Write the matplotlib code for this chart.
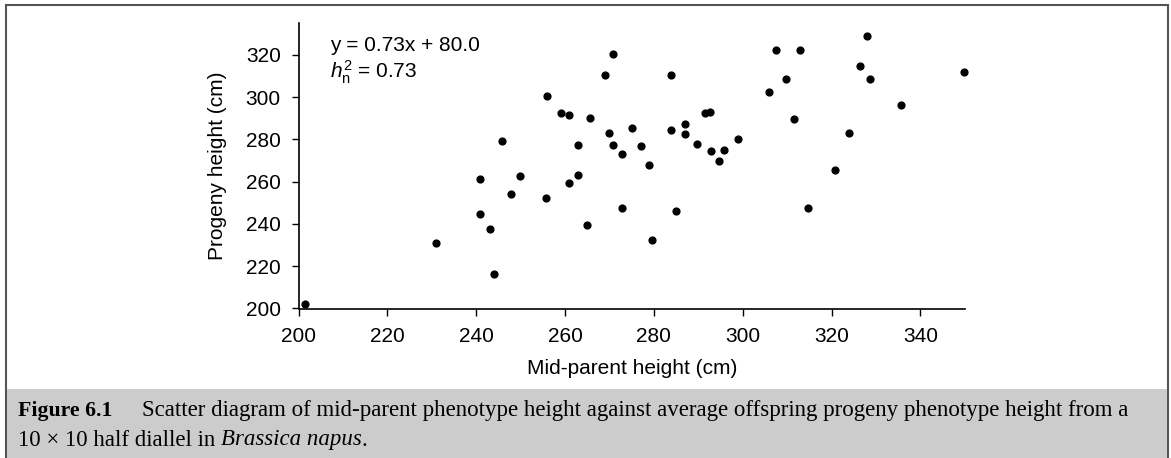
import matplotlib
matplotlib.use("Agg")
import matplotlib.pyplot as plt
from matplotlib.patches import Rectangle

# valores: altura media de padres (x) y de progenie (y)
mid_parent = [201.4, 231.0, 240.9, 240.9, 243.1, 244.0, 245.9, 247.8, 249.8, 255.8,
              255.9, 259.1, 260.9, 260.9, 262.9, 262.9, 265.0, 265.6, 269.0, 269.9,
              270.9, 270.9, 272.8, 272.8, 275.1, 277.2, 278.9, 279.6, 283.8, 283.8,
              284.9, 286.9, 287.0, 289.6, 291.6, 292.6, 292.8, 294.6, 295.9, 298.9,
              306.0, 307.6, 309.7, 311.5, 312.8, 314.8, 320.9, 324.0, 326.5, 327.9,
              328.7, 335.6, 349.8]
progeny = [202.2, 231.2, 261.3, 244.8, 237.7, 216.1, 279.4, 254.4, 262.6, 252.3,
           300.4, 292.7, 291.4, 259.3, 277.6, 263.4, 239.3, 290.3, 310.3, 283.2,
           320.3, 277.6, 273.1, 247.5, 285.3, 277.1, 268.1, 232.5, 310.3, 284.6,
           246.3, 287.5, 282.8, 278.0, 292.5, 293.2, 274.7, 270.0, 275.0, 280.2,
           302.3, 322.5, 308.6, 289.8, 322.2, 247.8, 265.6, 282.9, 314.9, 328.9,
           308.6, 296.5, 312.1]

x_ticks = [200, 220, 240, 260, 280, 300, 320, 340]
y_ticks = [200, 220, 240, 260, 280, 300, 320]

plt.rcParams['font.family'] = ['Liberation Sans', 'DejaVu Sans']
plt.rcParams['mathtext.fontset'] = 'custom'
plt.rcParams['mathtext.rm'] = 'Liberation Sans'
plt.rcParams['mathtext.it'] = 'Liberation Sans:italic'

W, H = 1171, 458
fig = plt.figure(figsize=(W / 100, H / 100), dpi=100)

# marco exterior y caja de la leyenda
fig.patches.append(Rectangle((6 / W, 0), 1162 / W, 453.3 / H, transform=fig.transFigure,
                             facecolor="white", edgecolor="#555555", linewidth=1.5, zorder=-2))
fig.patches.append(Rectangle((6.8 / W, 0), 1160.4 / W, 69 / H, transform=fig.transFigure,
                             facecolor="#cccccc", edgecolor="none", zorder=-1))

ax = fig.add_axes([298.7 / W, 149.5 / H, 666.0 / W, 285.2 / H])
ax.set_zorder(3)
ax.patch.set_alpha(0)
ax.scatter(mid_parent, progeny, s=24, color="black", clip_on=False, zorder=3)
ax.set_xlim(200, 350)
ax.set_ylim(200, 335)
ax.set_xticks(x_ticks)
ax.set_yticks(y_ticks)
for s in ["top", "right"]:
    ax.spines[s].set_visible(False)
for s in ["left", "bottom"]:
    ax.spines[s].set_linewidth(1.2)
ax.tick_params(direction="out", length=5, width=1, labelsize=15, pad=8)
ax.set_xlabel("Mid-parent height (cm)", fontsize=15, labelpad=10)
ax.set_ylabel("Progeny height (cm)", fontsize=15, labelpad=13)

ax.text(207.0, 324.6, "y = 0.73x + 80.0", fontsize=15, va="center", ha="left")
ax.text(207.0, 312.0, r"$h^2_\mathrm{n}$ = 0.73", fontsize=15, va="center", ha="left")

# texto de la figura, por partes; el tamaño se ajusta al ancho medido
serif = ['Liberation Serif', 'DejaVu Serif']
fig.canvas.draw()
rend = fig.canvas.get_renderer()


def ancho(txt, size, w="normal", st="normal"):
    t = fig.text(0, 0, txt, fontsize=size, family=serif, weight=w, style=st)
    a = t.get_window_extent(rend).width
    t.remove()
    return a


def linea(partes, x0, y, size):
    x = x0
    for txt, w, st in partes:
        t = fig.text(x / W, y / H, txt, fontsize=size, family=serif,
                     weight=w, style=st, va="baseline", ha="left", zorder=5)
        x += t.get_window_extent(rend).width


linea1 = ("Scatter diagram of mid-parent phenotype height against average offspring "
          "progeny phenotype height from a")
size_fig = 10 * 94 / ancho("Figure 6.1", 10, "bold")
size_txt = 10 * 986 / ancho(linea1, 10)

linea([("Figure 6.1", "bold", "normal")], 18, 458 - 415.7, size_fig)
linea([(linea1, "normal", "normal")], 142, 458 - 415.7, size_txt)
linea([("10 \u00d7 10 half diallel in ", "normal", "normal"),
       ("Brassica napus", "normal", "italic"),
       (".", "normal", "normal")], 18, 458 - 445.5, size_txt)

fig.savefig("out.png", dpi=100)
